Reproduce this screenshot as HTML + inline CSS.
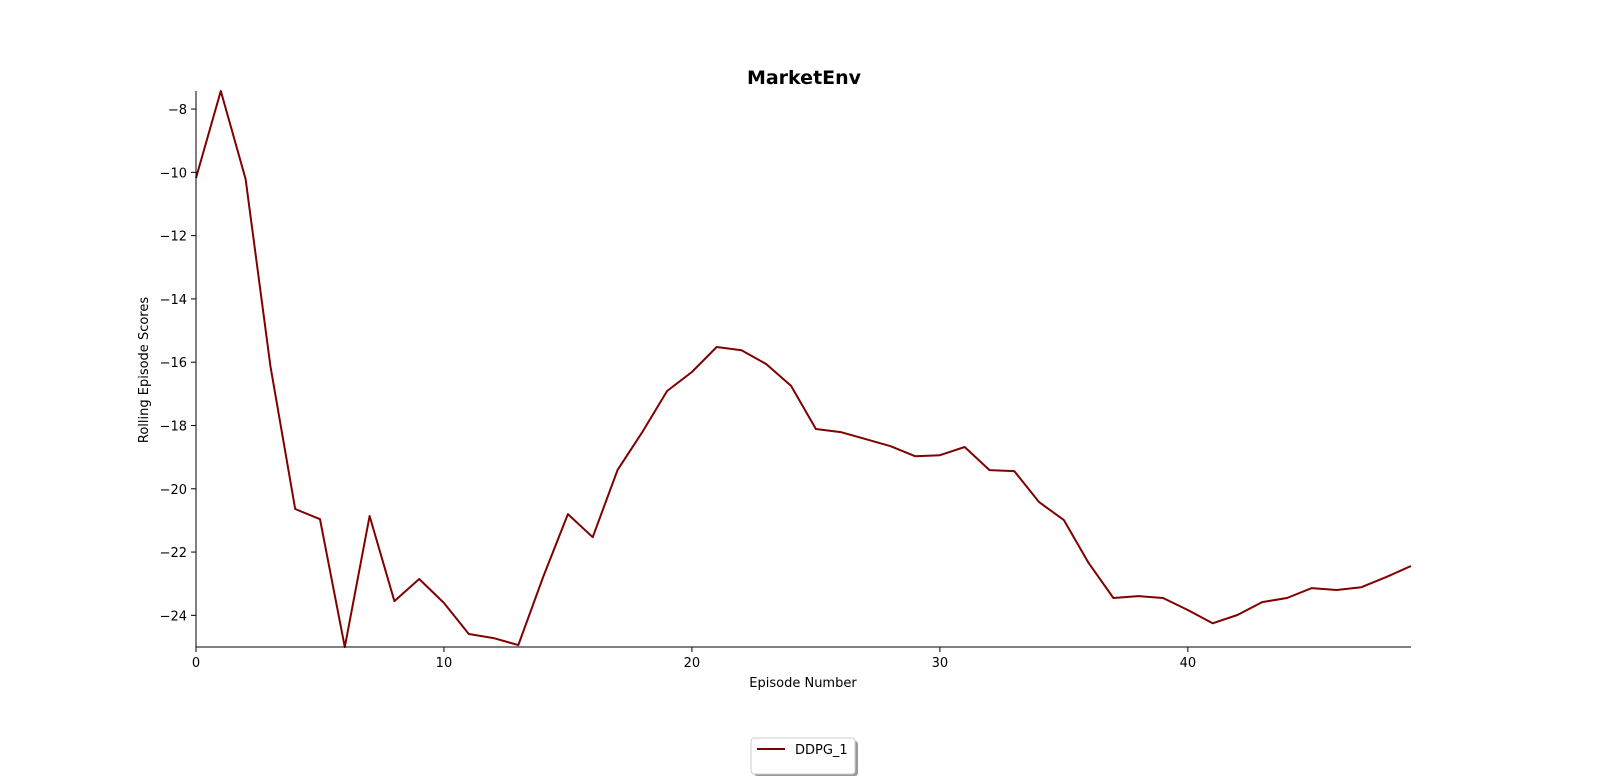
<!DOCTYPE html>
<html><head><meta charset="utf-8"><style>
html,body{margin:0;padding:0;background:#fff;overflow:hidden;width:1601px;height:776px;}
svg{display:block;font-family:"DejaVu Sans","Liberation Sans",sans-serif;}
</style></head><body>
<svg id="chart" width="1601" height="776" viewBox="0 0 1601 776">
<rect width="1601" height="776" fill="#fff"/>
<text x="804" y="84" text-anchor="middle" font-size="19" font-weight="bold">MarketEnv</text>
<g id="xt"></g>
<g id="yt"></g>
<text x="803" y="687" text-anchor="middle" font-size="13">Episode Number</text>
<text transform="translate(148,370) rotate(-90)" text-anchor="middle" font-size="13">Rolling Episode Scores</text>
<path id="line" fill="none" stroke="#800000" stroke-width="2" stroke-linejoin="round"/>
<g>
<rect x="754" y="741" width="104" height="35" rx="3" fill="#999"/>
<rect x="751" y="738" width="104" height="36" rx="3" fill="#fff" stroke="#ccc"/>
<line x1="757" y1="749" x2="785" y2="749" stroke="#800000" stroke-width="2"/>
<text x="795" y="754" font-size="13">DDPG_1</text>
</g>
<line x1="196" y1="91" x2="196" y2="647" stroke="#000" stroke-width="1"/>
<line x1="196" y1="647" x2="1411" y2="647" stroke="#000" stroke-width="1"/>
</svg>
<script>
const scores=[-10.18,-7.43,-10.21,-16.12,-20.64,-20.96,-25.0,-20.86,-23.55,-22.85,-23.61,-24.59,-24.72,-24.94,-22.79,-20.80,-21.53,-19.41,-18.21,-16.91,-16.31,-15.52,-15.62,-16.06,-16.75,-18.11,-18.21,-18.43,-18.65,-18.97,-18.94,-18.68,-19.41,-19.44,-20.42,-20.99,-22.35,-23.45,-23.39,-23.45,-23.83,-24.25,-23.99,-23.58,-23.45,-23.14,-23.20,-23.11,-22.79,-22.44];
const xTicks=[0,10,20,30,40];
const yTicks=[-8,-10,-12,-14,-16,-18,-20,-22,-24];
const NS="http://www.w3.org/2000/svg";
const X0=196,X1=1411,Y0=91,Y1=647;
const xMin=0,xMax=scores.length-1;
const yMax=Math.max(...scores),yMin=Math.min(...scores);
const sx=v=>X0+(v-xMin)/(xMax-xMin)*(X1-X0);
const sy=v=>Y1-(v-yMin)/(yMax-yMin)*(Y1-Y0);
const xt=document.getElementById('xt'),yt=document.getElementById('yt');
xTicks.forEach(t=>{
 const l=document.createElementNS(NS,'line');
 l.setAttribute('x1',sx(t));l.setAttribute('x2',sx(t));l.setAttribute('y1',Y1);l.setAttribute('y2',Y1+5);l.setAttribute('stroke','#000');
 
 
 xt.appendChild(l);
 const s=document.createElementNS(NS,'text');
 s.setAttribute('x',sx(t));s.setAttribute('y',Y1+20);s.setAttribute('text-anchor','middle');s.setAttribute('font-size','13');
 s.textContent=t;
 
 
 xt.appendChild(s);
});
yTicks.forEach(t=>{
 const l=document.createElementNS(NS,'line');
 l.setAttribute('x1',X0-5);l.setAttribute('x2',X0);l.setAttribute('y1',sy(t));l.setAttribute('y2',sy(t));l.setAttribute('stroke','#000');
 
 
 yt.appendChild(l);
 const s=document.createElementNS(NS,'text');
 s.setAttribute('x',X0-9);s.setAttribute('y',sy(t)+5);s.setAttribute('text-anchor','end');s.setAttribute('font-size','13');
 s.textContent='\u2212'+Math.abs(t);
 
 
 yt.appendChild(s);
});
document.getElementById('line').setAttribute('d',scores.map((v,i)=>(i?'L':'M')+sx(i).toFixed(1)+','+sy(v).toFixed(1)).join(''));
</script>
</body></html>
